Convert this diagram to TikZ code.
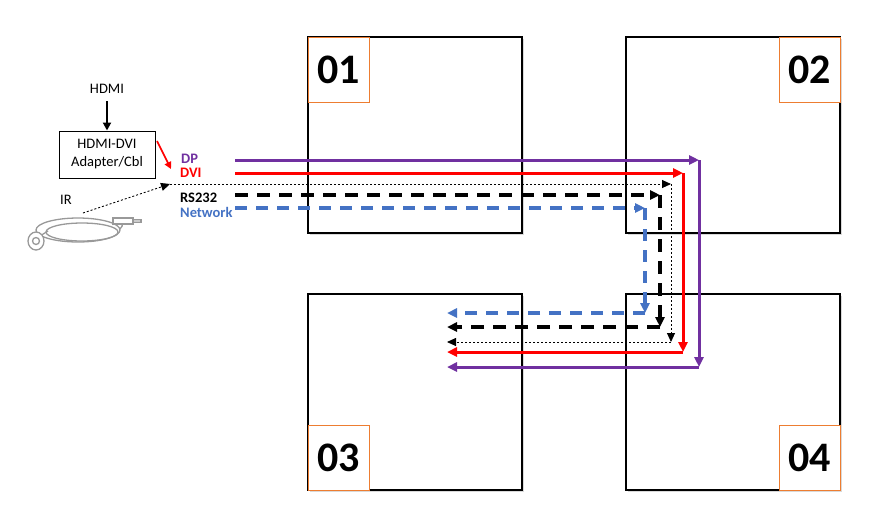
\documentclass[tikz,border=0pt]{standalone}
\usepackage{fontspec}
\setmainfont{Carlito}
\usepackage{xcolor}
\usetikzlibrary{arrows.meta,positioning,shadows}
\definecolor{dpviolet}{HTML}{7030A0}
\definecolor{netblue}{HTML}{4472C4}
\definecolor{tagorange}{HTML}{ED7D31}
\begin{document}
\begin{tikzpicture}[x=1pt,y=-1pt,
    panel/.style={draw,line width=1.3pt,outer sep=0pt,fill=white,minimum width=214pt,minimum height=196pt,
      drop shadow={shadow xshift=2pt,shadow yshift=-2pt,opacity=.3}},
    tag/.style={draw=tagorange,line width=0.9pt,outer sep=0pt,fill=white,minimum width=61pt,minimum height=65pt,
      font=\fontsize{42}{44}\selectfont\bfseries},
    txt/.style={font=\fontsize{14.5}{18}\selectfont},
    sig/.style={font=\fontsize{14.5}{16}\selectfont\bfseries,inner sep=0pt,anchor=west},
    tip/.style={-{Triangle[length=10pt,width=9pt]}},
    dp/.style={draw=dpviolet,line width=3pt,tip},
    dvi/.style={draw=red,line width=3pt,tip},
    ir/.style={draw,line width=0.9pt,dash pattern=on 2pt off 2pt,-{Triangle[length=9pt,width=8pt]}},
    rs/.style={draw,line width=3.2pt,dash pattern=on 13pt off 9pt,tip},
    net/.style={draw=netblue,line width=3.2pt,dash pattern=on 12pt off 9pt,tip}]
  \useasboundingbox (0,0) rectangle (883,523);

  % Panels
  \node[panel] (p1) at (415,135) {};
  \node[panel] (p2) at (733,135) {};
  \node[panel] (p3) at (415,392) {};
  \node[panel] (p4) at (733,392) {};
  \node[tag,anchor=north west] (t1) at (p1.north west) {01};
  \node[tag,anchor=north east] (t2) at (p2.north east) {02};
  \node[tag,anchor=south west] (t3) at (p3.south west) {03};
  \node[tag,anchor=south east] (t4) at (p4.south east) {04};

  % Sources
  \node[txt] (hdmi) at (107,89) {HDMI};
  \node[txt,draw,line width=1pt,minimum width=96pt,minimum height=47pt,align=center,inner sep=1pt] (conv) at (107,154.5) {HDMI-DVI\\Adapter/Cbl};
  \node[txt] (irlbl) at (66,200) {IR};
  \node[sig,text=dpviolet] (dplbl) at (181,159) {DP};
  \node[sig,text=red] (dvilbl) at (180,172.5) {DVI};
  \node[sig] (rslbl) at (180,198) {RS232};
  \node[sig,text=netblue] (netlbl) at (180,212) {Network};

  % IR cable
  \begin{scope}[line width=1.3pt]
    \draw[gray!80] (78,230) ellipse [x radius=42,y radius=12];
    \draw[gray!80] (82,232) ellipse [x radius=36,y radius=9];
    \draw[gray!80] (120,229) .. controls (124,224) .. (113,221);
    \draw[gray!80,fill=white] (113,218) rectangle (133,224);
    \draw[gray!80,fill=gray!40] (133,219.5) rectangle (141,222.5);
    \draw[gray!80] (40,236) -- (48,231);
    \draw[gray!80,fill=white] (36,241) ellipse [x radius=8,y radius=9];
    \draw[gray!80] (36,241) circle [radius=3.5];
  \end{scope}

  % Corners
  \coordinate (dpA) at (235,160);  \coordinate (dpB) at (699,160);
  \coordinate (dpC) at (699,367);  \coordinate (dpD) at (447,367);
  \coordinate (dvA) at (235,173);  \coordinate (dvB) at (683,173);
  \coordinate (dvC) at (683,352);  \coordinate (dvD) at (447,352);
  \coordinate (irA) at (83,213);   \coordinate (irB) at (170,184);
  \coordinate (irC) at (671,184);  \coordinate (irD) at (671,342);
  \coordinate (irE) at (447,342);
  \coordinate (rsA) at (235,195);  \coordinate (rsB) at (660,195);
  \coordinate (rsC) at (660,327);  \coordinate (rsD) at (447,327);
  \coordinate (ntA) at (235,208);  \coordinate (ntB) at (645,208);
  \coordinate (ntC) at (645,313);  \coordinate (ntD) at (447,313);
  \coordinate (cvA) at (157,141);  \coordinate (cvB) at (171,169);

  % Edges
  \draw[line width=2.6pt,-{Triangle[length=8pt,width=8pt]},shorten <=4pt] (hdmi) -- (conv);
  \draw[draw=red,line width=1.6pt,-{Triangle[length=7pt,width=7pt]}] (cvA) -- (cvB);
  \draw[dp] (dpA) -- (dpB);
  \draw[dp] (dpB) -- (dpC);
  \draw[dp] (dpC) -- (dpD);
  \draw[dvi] (dvA) -- (dvB);
  \draw[dvi] (dvB) -- (dvC);
  \draw[dvi] (dvC) -- (dvD);
  \draw[ir] (irA) -- (irB);
  \draw[ir] (irB) -- (irC);
  \draw[ir] (irC) -- (irD);
  \draw[ir] (irD) -- (irE);
  \draw[rs] (rsA) -- (rsB);
  \draw[rs] (rsB) -- (rsC);
  \draw[rs] (rsC) -- (rsD);
  \draw[net] (ntA) -- (ntB);
  \draw[net] (ntB) -- (ntC);
  \draw[net] (ntC) -- (ntD);
\end{tikzpicture}
\end{document}
